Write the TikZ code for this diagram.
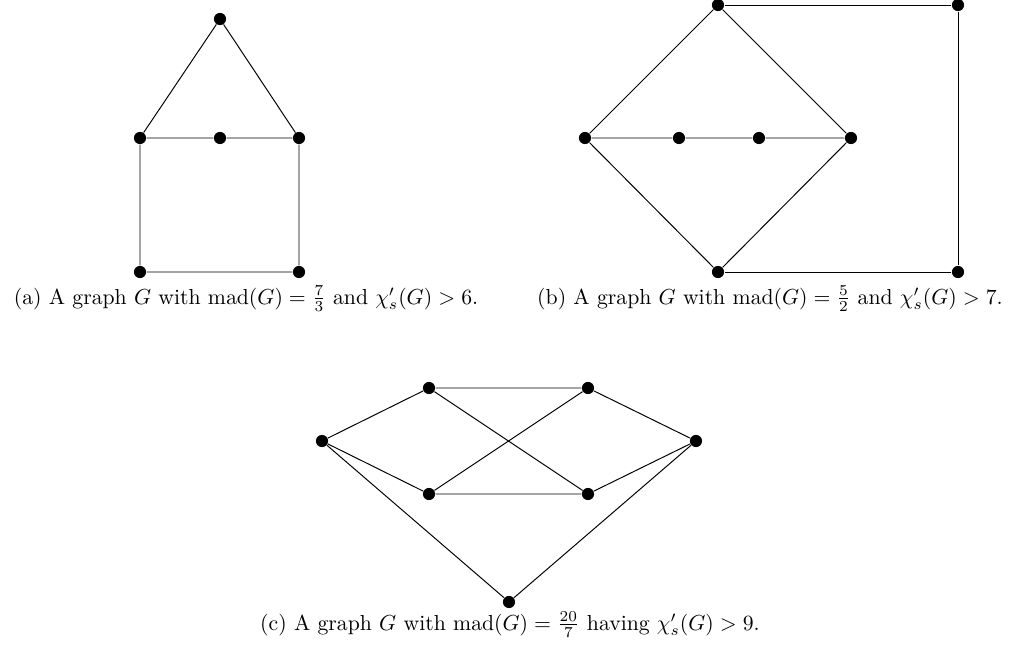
\documentclass[tikz,border=0pt]{standalone}
\usepackage{amsmath}
\usetikzlibrary{positioning}
\tikzset{vtx/.style={circle,fill=black,inner sep=0pt,minimum size=5.6pt},
  edge/.style={line width=0.45pt},
  capt/.style={anchor=base,inner sep=0pt}}

\begin{document}
\begin{tikzpicture}[x=0.46pt,y=-0.46pt]
    \useasboundingbox (0,0) rectangle (1018,650);
    % (a)
    \foreach \n/\x/\y in {at/220/19,al/140/138,am/220/138,ar/299/138,bl/140/272,br/299/272}
      \node[vtx] (\n) at (\x,\y) {};
    \draw[edge] (al) -- (at) -- (ar) -- (am) -- (al) -- (bl) -- (br) -- (ar);
    \node[capt] (capa) at (246,304) {(a) A graph $G$ with $\operatorname{mad}(G)=\frac{7}{3}$ and $\chi'_s(G)>6$.};
    % (b)
    \foreach \n/\x/\y in {bt/718/5,btr/958/5,bl/585/138,bm1/679/138,bm2/759/138,br/851/138,bb/718/272,bbr/958/272}
      \node[vtx] (\n) at (\x,\y) {};
    \draw[edge] (bl) -- (bt) -- (br) -- (bb) -- (bl) -- (bm1) -- (bm2) -- (br);
    \draw[edge] (bt) -- (btr) -- (bbr) -- (bb);
    \node[capt] (capb) at (770,304) {(b) A graph $G$ with $\operatorname{mad}(G)=\frac{5}{2}$ and $\chi'_s(G)>7$.};
    % (c)
    \foreach \n/\x/\y in {ca/322/441,cb/429/388,cc/588/388,cd/696/441,ce/429/494,cf/588/494,cg/509/602}
      \node[vtx] (\n) at (\x,\y) {};
    \draw[edge] (ca) -- (cb) -- (cc) -- (cd) -- (cf) -- (ce) -- (ca) -- (cg) -- (cd);
    \draw[edge] (cb) -- (cf) (ce) -- (cc);
    \node[capt] (capc) at (510,630) {(c) A graph $G$ with $\operatorname{mad}(G)=\frac{20}{7}$ having $\chi'_s(G)>9$.};
  \end{tikzpicture}
\end{document}
